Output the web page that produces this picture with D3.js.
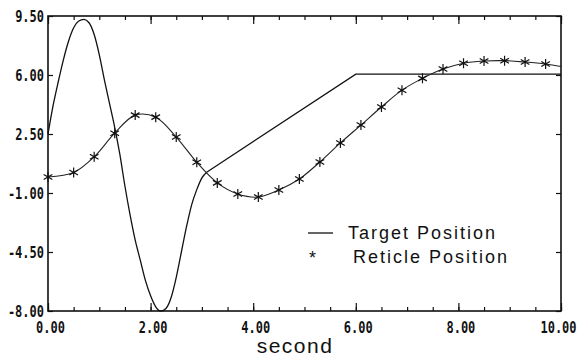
<!DOCTYPE html>
<html>
<head>
<meta charset="utf-8">
<script src="https://cdn.jsdelivr.net/npm/d3@7"></script>
<style>
	body { margin: 0; background: #fff; }
	.tick-label { font-family: "DejaVu Sans Mono", monospace; font-weight: bold; font-size: 12px; fill: #111; }
	.legend-text { font-family: "Liberation Sans", Arial, sans-serif; font-size: 18px; letter-spacing: 2px; fill: #111; }
</style>
</head>
<body>
<div class="chart-area"></div>
<script>
	// axis ticks and labels
	var xTicks = [0, 2, 4, 6, 8, 10];
	var xTickLabels = ['0.00', '2.00', '4.00', '6.00', '8.00', '10.00'];
	var yTicks = [9.5, 6, 2.5, -1, -4.5, -8];
	var yTickLabels = ['9.50', '6.00', '2.50', '-1.00', '-4.50', '-8.00'];
	var xTitle = 'second';
	var seriesNames = ['Target Position', 'Reticle Position'];

	// target position (solid line): oscillation, then a straight ramp and a hold
	var targetTime = [0, 0.1, 0.2, 0.3, 0.4, 0.5, 0.6, 0.7, 0.8, 0.9,
		1.0, 1.1, 1.2, 1.3, 1.4, 1.5, 1.6, 1.7, 1.8, 1.9,
		2.0, 2.1, 2.2, 2.3, 2.4, 2.5, 2.6, 2.7, 2.8, 2.9,
		3.0, 3.1, 6.0, 10.0];
	var targetValue = [2.5, 4.2, 5.6, 6.9, 8.0, 8.8, 9.2, 9.3, 9.1, 8.4,
		7.2, 5.7, 4.3, 2.9, 1.3, -0.6, -2.3, -3.8, -5.0, -6.2,
		-7.1, -7.75, -8.0, -7.85, -7.2, -6.0, -4.5, -3.0, -1.7, -0.8,
		-0.1, 0.25, 6.05, 6.05];
	var rampStart = 3.1;

	// reticle position (line with star markers)
	var reticleTime = [0, 0.5, 0.9, 1.3, 1.7, 2.1, 2.5, 2.9, 3.3, 3.7,
		4.1, 4.5, 4.9, 5.3, 5.7, 6.1, 6.5, 6.9, 7.3, 7.7,
		8.1, 8.5, 8.9, 9.3, 9.7, 10.0];
	var reticleValue = [-0.05, 0.22, 1.15, 2.55, 3.62, 3.5, 2.32, 0.82, -0.4, -1.06,
		-1.24, -0.82, -0.17, 0.84, 1.97, 3.03, 4.1, 5.1, 5.8, 6.35,
		6.7, 6.83, 6.85, 6.77, 6.65, 6.5];

	var width = 581;
	var height = 360;
	var plot = { left: 48, right: 561, top: 16, bottom: 311 };
	var stretch = 1.3; // tick digits are taller than they are wide

	var svg = d3.select('.chart-area').append('svg')
		.attr('width', width)
		.attr('height', height);

	var x = d3.scaleLinear().domain([0, 10]).range([plot.left, plot.right]);
	var y = d3.scaleLinear().domain([-8, 9.5]).range([plot.bottom, plot.top]);

	var target = targetTime.map(function(t, i) { return [t, targetValue[i]]; });
	var reticle = reticleTime.map(function(t, i) { return [t, reticleValue[i]]; });

	// minor ticks, every half second, pointing inward
	var minor = d3.range(0, 10.01, 0.5);
	svg.append('g')
		.attr('transform', 'translate(0,' + plot.bottom + ')')
		.call(d3.axisBottom(x).tickValues(minor).tickSize(-4).tickFormat(''));
	svg.append('g')
		.attr('transform', 'translate(0,' + plot.top + ')')
		.call(d3.axisTop(x).tickValues(minor).tickSize(-4).tickFormat(''));

	// major ticks
	var bottomAxis = svg.append('g')
		.attr('transform', 'translate(0,' + plot.bottom + ')')
		.call(d3.axisBottom(x).tickValues(xTicks).tickSize(-8)
			.tickFormat(function(d, i) { return xTickLabels[i]; }));
	bottomAxis.selectAll('text')
		.attr('class', 'tick-label')
		.attr('dy', null)
		.attr('y', 22 / stretch)
		.attr('dx', function(d) { return d === 10 ? -3 : 2; })
		.attr('transform', 'scale(1,' + stretch + ')');

	svg.append('g')
		.attr('transform', 'translate(0,' + plot.top + ')')
		.call(d3.axisTop(x).tickValues(xTicks).tickSize(-8).tickFormat(''));

	var leftAxis = svg.append('g')
		.attr('transform', 'translate(' + plot.left + ',0)')
		.call(d3.axisLeft(y).tickValues(yTicks).tickSize(-5).tickPadding(4)
			.tickFormat(function(d, i) { return yTickLabels[i]; }));
	leftAxis.selectAll('text')
		.attr('class', 'tick-label')
		.attr('dy', null)
		.attr('y', 5.5 / stretch)
		.attr('transform', 'scale(1,' + stretch + ')');

	svg.append('g')
		.attr('transform', 'translate(' + plot.right + ',0)')
		.call(d3.axisRight(y).tickValues(yTicks).tickSize(-5).tickFormat(''));

	svg.selectAll('.domain').remove();
	svg.selectAll('.tick line').attr('stroke', '#111').attr('stroke-width', 1.2);

	// frame
	svg.append('rect')
		.attr('x', plot.left)
		.attr('y', plot.top)
		.attr('width', plot.right - plot.left)
		.attr('height', plot.bottom - plot.top)
		.attr('fill', 'none')
		.attr('stroke', '#111')
		.attr('stroke-width', 1.6);

	// target line: smooth through the oscillation, straight along ramp and hold
	var smoothLine = d3.line()
		.x(function(d) { return x(d[0]); })
		.y(function(d) { return y(d[1]); })
		.curve(d3.curveMonotoneX);
	var straightLine = d3.line()
		.x(function(d) { return x(d[0]); })
		.y(function(d) { return y(d[1]); });
	svg.append('path')
		.datum(target.filter(function(d) { return d[0] <= rampStart; }))
		.attr('d', smoothLine)
		.attr('fill', 'none')
		.attr('stroke', '#111')
		.attr('stroke-width', 1.3);
	svg.append('path')
		.datum(target.filter(function(d) { return d[0] >= rampStart; }))
		.attr('d', straightLine)
		.attr('fill', 'none')
		.attr('stroke', '#111')
		.attr('stroke-width', 1.3);

	// reticle line
	var reticleLine = d3.line()
		.x(function(d) { return x(d[0]); })
		.y(function(d) { return y(d[1]); })
		.curve(d3.curveCatmullRom.alpha(0.5));
	svg.append('path')
		.datum(reticle)
		.attr('d', reticleLine)
		.attr('fill', 'none')
		.attr('stroke', '#222')
		.attr('stroke-width', 1.1);

	// star markers (not at the last sample)
	var star = d3.symbol().type(d3.symbolAsterisk).size(70);
	svg.append('g')
		.selectAll('path')
		.data(reticle.filter(function(d) { return d[0] < 10; }))
		.enter().append('path')
		.attr('transform', function(d) { return 'translate(' + x(d[0]) + ',' + y(d[1]) + ')'; })
		.attr('d', star)
		.attr('fill', 'none')
		.attr('stroke', '#111')
		.attr('stroke-width', 1.2);

	// legend
	var legend = svg.append('g').attr('class', 'legend');
	legend.append('line')
		.attr('x1', 308).attr('x2', 333)
		.attr('y1', 233).attr('y2', 233)
		.attr('stroke', '#111')
		.attr('stroke-width', 1.3);
	legend.append('text')
		.attr('class', 'legend-text')
		.attr('x', 348).attr('y', 239)
		.text(seriesNames[0]);
	legend.append('text')
		.attr('class', 'legend-text')
		.attr('x', 309).attr('y', 264)
		.text('*');
	legend.append('text')
		.attr('class', 'legend-text')
		.attr('x', 353).attr('y', 263)
		.text(seriesNames[1]);

	// axis title
	svg.append('text')
		.attr('x', 295)
		.attr('y', 353)
		.attr('text-anchor', 'middle')
		.attr('font-family', '"Liberation Sans", Arial, sans-serif')
		.attr('font-size', 21)
		.attr('letter-spacing', 1.5)
		.attr('fill', '#111')
		.text(xTitle);
</script>
</body>
</html>
